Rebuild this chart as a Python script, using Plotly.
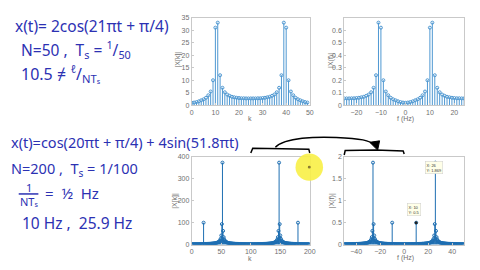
import plotly.graph_objects as go

W, H = 480, 270
def px(x): return x / W
def py(y): return 1 - y / H

# ---------------- data ----------------
# plot 1: |X[k]|, N = 50
k1 = list(range(50))
mag1 = [1.0, 1.1, 1.3, 1.6, 2.0, 2.4, 3.0, 4.0, 5.5, 10.0,
        31.0, 33.0, 12.0, 7.0, 5.2, 4.3, 3.8, 3.4, 3.2, 3.0,
        2.9, 2.8, 2.8, 2.75, 2.75, 2.75, 2.75, 2.75, 2.8, 2.8,
        2.9, 3.0, 3.2, 3.4, 3.8, 4.3, 5.2, 7.0, 12.0, 33.0,
        31.0, 10.0, 5.5, 4.0, 3.0, 2.4, 2.0, 1.6, 1.3, 1.1]

# plot 2: |X(f)| (normalised), f = -25..24 Hz
f2 = list(range(-25, 25))
mag2 = [0.055, 0.055, 0.055, 0.056, 0.056, 0.058, 0.060, 0.064, 0.068, 0.076,
        0.086, 0.104, 0.14, 0.24, 0.66, 0.62, 0.20, 0.11, 0.08, 0.06,
        0.048, 0.04, 0.032, 0.026, 0.022, 0.02, 0.022, 0.026, 0.032, 0.04,
        0.048, 0.06, 0.08, 0.11, 0.20, 0.62, 0.66, 0.24, 0.14, 0.104,
        0.086, 0.076, 0.068, 0.064, 0.060, 0.058, 0.056, 0.056, 0.055, 0.055]

# plot 3: |X[k]|, N = 200
k3 = list(range(200))
mag3 = [1.6, 1.6, 1.7, 1.7, 1.7, 1.8, 1.8, 1.8, 1.9, 1.9, 1.9, 2.0, 2.0, 2.1, 2.1, 2.2, 2.2, 2.3, 2.3, 2.4,
        100.0,
        2.5, 2.6, 2.7, 2.8, 2.9, 3.0, 3.1, 3.2, 3.4, 3.5, 3.7, 3.8, 4.0, 4.3, 4.5, 4.8, 5.1, 5.5, 5.9, 6.4,
        7.0, 7.7, 8.5, 9.6, 11.0, 12.9, 15.6, 19.7, 26.7, 41.6, 93.5,
        374.0,
        62.4, 34.0, 23.4, 17.8, 14.4, 12.1, 10.4, 9.1, 8.1, 7.4, 6.7, 6.2, 5.7, 5.3, 5.0, 4.7, 4.4, 4.2,
        4.0, 3.8, 3.6, 3.4, 3.3, 3.2, 3.1, 2.9, 2.8, 2.7, 2.6, 2.6, 2.5, 2.4, 2.4, 2.3, 2.2, 2.2, 2.1, 2.1,
        2.0, 2.0, 1.9, 1.9, 1.9, 1.8, 1.8, 1.8, 1.7, 1.7,
        1.7, 1.8, 1.8, 1.8, 1.9, 1.9, 1.9, 2.0, 2.0, 2.1, 2.1, 2.2, 2.2, 2.3, 2.4, 2.4, 2.5, 2.6, 2.6, 2.7,
        2.8, 2.9, 3.1, 3.2, 3.3, 3.4, 3.6, 3.8, 4.0, 4.2, 4.4, 4.7, 5.0, 5.3, 5.7, 6.2, 6.7, 7.4, 8.1, 9.1,
        10.4, 12.1, 14.4, 17.8, 23.4, 34.0, 62.4,
        374.0,
        93.5, 41.6, 26.7, 19.7, 15.6, 12.9, 11.0, 9.6, 8.5, 7.7, 7.0, 6.4, 5.9, 5.5, 5.1, 4.8, 4.5, 4.3,
        4.0, 3.8, 3.7, 3.5, 3.4, 3.2, 3.1, 3.0, 2.9, 2.8, 2.7, 2.6, 2.5,
        100.0,
        2.4, 2.3, 2.3, 2.2, 2.2, 2.1, 2.1, 2.0, 2.0, 1.9, 1.9, 1.9, 1.8, 1.8, 1.8, 1.7, 1.7, 1.7, 1.6]

# plot 4: |X(f)| (normalised), f = -50..49.5 Hz
mag4 = [0.009,
        0.009, 0.009, 0.009, 0.009, 0.010, 0.010, 0.010, 0.010, 0.010, 0.011, 0.011, 0.011, 0.011, 0.012,
        0.012, 0.012, 0.013, 0.013, 0.013, 0.014, 0.014, 0.015, 0.016, 0.016, 0.017, 0.017, 0.018, 0.019,
        0.020, 0.021, 0.022, 0.024, 0.025, 0.027, 0.029, 0.031, 0.034, 0.037, 0.041, 0.046, 0.052, 0.061,
        0.072, 0.089, 0.117, 0.170, 0.312,
        1.870,
        0.468, 0.208, 0.134, 0.099, 0.078, 0.065, 0.055, 0.048, 0.043, 0.039, 0.035, 0.032, 0.030, 0.028,
        0.026, 0.024, 0.023, 0.022, 0.020, 0.019, 0.019, 0.018, 0.017, 0.016, 0.016, 0.015, 0.015, 0.014,
        0.014, 0.013, 0.013,
        0.500,
        0.012, 0.012, 0.012, 0.011, 0.011, 0.011, 0.011, 0.010, 0.010, 0.010, 0.010, 0.010, 0.009, 0.009,
        0.009, 0.009, 0.009, 0.009, 0.008,
        0.008, 0.008, 0.009, 0.009, 0.009, 0.009, 0.009, 0.009, 0.010, 0.010, 0.010, 0.010, 0.010, 0.011,
        0.011, 0.011, 0.011, 0.012, 0.012, 0.012,
        0.500,
        0.013, 0.013, 0.014, 0.014, 0.015, 0.015, 0.016, 0.016, 0.017, 0.018, 0.019, 0.019, 0.020, 0.022,
        0.023, 0.024, 0.026, 0.028, 0.030, 0.032, 0.035, 0.039, 0.043, 0.048, 0.055, 0.065, 0.078, 0.099,
        0.134, 0.208, 0.468,
        1.870,
        0.312, 0.170, 0.117, 0.089, 0.072, 0.061, 0.052, 0.046, 0.041, 0.037, 0.034, 0.031, 0.029, 0.027,
        0.025, 0.024, 0.022, 0.021, 0.020, 0.019, 0.018, 0.017, 0.017, 0.016, 0.016, 0.015, 0.014, 0.014,
        0.013, 0.013, 0.013, 0.012, 0.012, 0.012, 0.011, 0.011, 0.011, 0.011, 0.010, 0.010, 0.010, 0.010,
        0.010, 0.009, 0.009, 0.009, 0.009]
f4 = [-50 + 0.5 * i for i in range(len(mag4))]

tips = [("X: 26<br>Y: 1.869", 26, 1.870), ("X: 10<br>Y: 0.5", 10, 0.500)]

# ---------------- figure ----------------
fig = go.Figure()

def add_stem(x, y, ax, color, msize, lw=1):
    xs, ys = [], []
    for a, b in zip(x, y):
        xs += [a, a, None]
        ys += [0, b, None]
    xa = 'x' if ax == 1 else 'x%d' % ax
    ya = 'y' if ax == 1 else 'y%d' % ax
    fig.add_trace(go.Scatter(x=xs, y=ys, mode='lines', line=dict(color=color, width=lw),
                             xaxis=xa, yaxis=ya, hoverinfo='skip'))
    fig.add_trace(go.Scatter(x=x, y=y, mode='markers',
                             marker=dict(symbol='circle-open', size=msize, color=color, line=dict(width=1)),
                             xaxis=xa, yaxis=ya, hoverinfo='skip'))

add_stem(k1, mag1, 1, '#4f98d2', 3)
add_stem(f2, mag2, 2, '#4f98d2', 3)
add_stem(k3, mag3, 3, '#1f6fb2', 3)
add_stem(f4, mag4, 4, '#1f6fb2', 3)

# data-tip points
fig.add_trace(go.Scatter(x=[t[1] for t in tips], y=[t[2] for t in tips], mode='markers',
                         marker=dict(color='#222', size=3), xaxis='x4', yaxis='y4', hoverinfo='skip'))

axis_common = dict(showline=True, linecolor='#c9c9c9', linewidth=1, mirror=True, ticks='inside',
                   ticklen=2, tickcolor='#c9c9c9', showgrid=False, zeroline=False,
                   tickfont=dict(size=7, color='#707070', family='Liberation Sans'))

L, R = px(193), px(313)
L2, R2 = px(348), px(470)
T1, B1 = py(14), py(104)
T2, B2 = py(157), py(247)

fig.update_layout(
    width=W, height=H, margin=dict(l=0, r=0, t=0, b=0),
    paper_bgcolor='white', plot_bgcolor='white', showlegend=False,
    xaxis=dict(domain=[L, R], range=[0, 50], tickvals=[0, 10, 20, 30, 40, 50], anchor='y', **axis_common),
    yaxis=dict(domain=[B1, T1], range=[0, 35], tickvals=[0, 5, 10, 15, 20, 25, 30, 35], anchor='x', **axis_common),
    xaxis2=dict(domain=[L2, R2], range=[-25, 24], tickvals=[-20, -10, 0, 10, 20], anchor='y2', **axis_common),
    yaxis2=dict(domain=[B1, T1], range=[0, 0.7], tickvals=[0, 0.1, 0.2, 0.3, 0.4, 0.5, 0.6], anchor='x2', **axis_common),
    xaxis3=dict(domain=[L, R], range=[0, 200], tickvals=[0, 50, 100, 150, 200], anchor='y3', **axis_common),
    yaxis3=dict(domain=[B2, T2], range=[0, 400], tickvals=[0, 100, 200, 300, 400], anchor='x3', **axis_common),
    xaxis4=dict(domain=[L2, R2], range=[-50, 50], tickvals=[-40, -20, 0, 20, 40], anchor='y4', **axis_common),
    yaxis4=dict(domain=[B2, T2], range=[0, 2], tickvals=[0, 0.5, 1, 1.5, 2], ticktext=['0', '0.5', '1', '1.5', '2'],
                anchor='x4', **axis_common),
)

ann = []
def label(text, x, y, size=7, angle=0, color='#707070', xanchor='center', family='Liberation Sans'):
    ann.append(dict(text=text, x=px(x), y=py(y), xref='paper', yref='paper', showarrow=False,
                    font=dict(size=size, color=color, family=family), textangle=angle,
                    xanchor=xanchor, yanchor='middle'))

# axis labels
label('k', 252, 118)
label('f (Hz)', 410, 118)
label('k', 252, 261)
label('f (Hz)', 410, 261)
label('|X[k]|', 179, 57, angle=-90)
label('|X(f)|', 335, 58, angle=-90)
label('|X[k]|', 176, 202, angle=-90)
label('|X(f)|', 335, 202, angle=-90)

# handwritten notes
INK = '#2c31b3'
HF = 'Noto Sans'
label('x(t)= 2cos(21πt + π/4)', 11, 23, size=15.5, color=INK, xanchor='left', family=HF)
label('N=50 ,  T<sub>s</sub> = <sup>1</sup>/<sub>50</sub>', 17, 47, size=15.5, color=INK, xanchor='left', family=HF)
label('10.5 ≠ <sup>ℓ</sup>/<sub>NTₛ</sub>', 17, 71, size=16, color=INK, xanchor='left', family=HF)
label('x(t)=cos(20πt + π/4) + 4sin(51.8πt)', 7, 142, size=14.5, color=INK, xanchor='left', family=HF)
label('N=200 ,  T<sub>s</sub> = 1/100', 7, 169, size=14.5, color=INK, xanchor='left', family=HF)
label('1', 27, 188, size=11, color=INK, family=HF)
label('NTₛ', 27, 203, size=11, color=INK, family=HF)
label('=  ½  Hz', 42, 194, size=15, color=INK, xanchor='left', family=HF)
label('10 Hz ,  25.9 Hz', 18, 225, size=15.5, color=INK, xanchor='left', family=HF)

# data tips
for (txt, xv, yv), (tx, ty) in zip(tips, [(448, 168), (426, 218)]):
    ann.append(dict(text=txt, x=px(tx), y=py(ty), xref='paper', yref='paper', showarrow=False,
                    font=dict(size=4, color='#333', family='Liberation Sans'), bgcolor='#ffffe8',
                    bordercolor='#cccccc', borderwidth=0.5, borderpad=1, align='left'))

fig.update_layout(annotations=ann)

def path(points, close=False):
    s = 'M ' + ' L '.join('%f,%f' % (px(a), py(b)) for a, b in points)
    return s + (' Z' if close else '')

shapes = []
# fraction bar of 1/NTs
shapes.append(dict(type='line', xref='paper', yref='paper', x0=px(17), x1=px(37), y0=py(195), y1=py(195),
                   line=dict(color=INK, width=1.5)))
# brackets and arrow (hand drawn)
shapes.append(dict(type='path', xref='paper', yref='paper',
                   path=path([(253, 153), (255, 148), (285, 148.5), (312, 149), (313, 153)]),
                   line=dict(color='black', width=1.5)))
shapes.append(dict(type='path', xref='paper', yref='paper',
                   path=path([(348, 155), (349, 150.5), (380, 150), (408, 151), (409, 154)]),
                   line=dict(color='black', width=1.5)))
shapes.append(dict(type='path', xref='paper', yref='paper',
                   path='M %f,%f C %f,%f %f,%f %f,%f C %f,%f %f,%f %f,%f' % (
                       px(278), py(147), px(288), py(137), px(320), py(136), px(340), py(137),
                       px(365), py(138), px(374), py(140), px(379), py(145)),
                   line=dict(color='black', width=1.5)))
shapes.append(dict(type='path', xref='paper', yref='paper',
                   path=path([(374, 142), (384, 140.5), (382, 150)], close=True),
                   fillcolor='black', line=dict(color='black', width=1)))
# cursor highlight
shapes.append(dict(type='circle', xref='paper', yref='paper',
                   x0=px(298.5), x1=px(326.5), y0=py(181.5), y1=py(153.5),
                   fillcolor='rgba(248,240,70,0.9)', line=dict(width=0), layer='above'))
shapes.append(dict(type='circle', xref='paper', yref='paper',
                   x0=px(311), x1=px(314), y0=py(169), y1=py(166),
                   fillcolor='#8a7a30', line=dict(width=0), layer='above'))
fig.update_layout(shapes=shapes)

fig.write_html("out.html")
